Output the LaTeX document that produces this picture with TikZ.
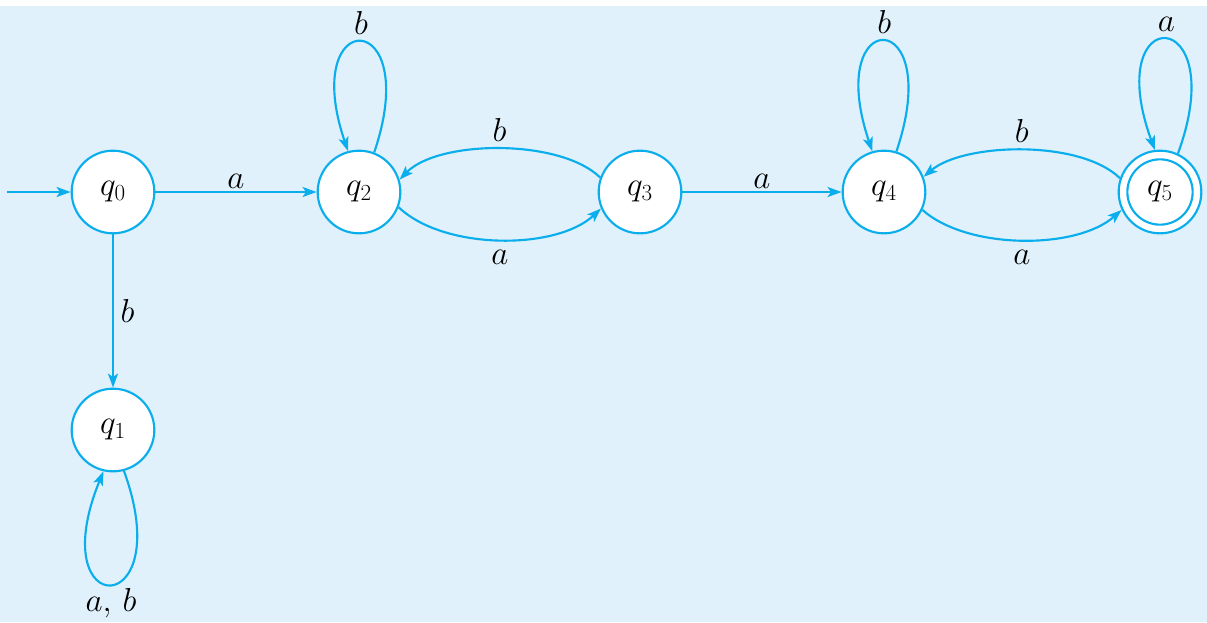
\documentclass[tikz,border=0pt]{standalone}
\usetikzlibrary{arrows.meta}
\definecolor{bg}{RGB}{224,241,251}
\definecolor{ln}{RGB}{10,174,236}
\begin{document}
\begin{tikzpicture}[x=0.75pt,y=-0.75pt,
  state/.style={circle, draw=ln, fill=white, line width=1.6pt, minimum size=62pt, inner sep=0pt, font=\fontsize{23}{27}\selectfont},
  inner/.style={circle, draw=ln, line width=1.6pt, minimum size=49pt, inner sep=0pt},
  edge/.style={draw=ln, line width=1.6pt, -{Stealth[length=10.5pt,width=7.5pt,inset=2.5pt]}},
  lab/.style={font=\fontsize{23}{27}\selectfont, inner sep=2pt}]
\useasboundingbox (0,0) rectangle (1207,622);
\fill[bg] (0,6) rectangle (1207,622);

\node[state] (q0) at (113,192) {$q_0$};
\node[state] (q1) at (113,430) {$q_1$};
\node[state] (q2) at (359,192) {$q_2$};
\node[state] (q3) at (640,192) {$q_3$};
\node[state] (q4) at (884,192) {$q_4$};
\node[state] (q5) at (1160,192) {};
\node[inner] (q5in) at (q5) {};
\node[lab] (q5t) at (q5) {$q_5$};

\coordinate (start) at (7,192);
\draw[edge] (start) -- (q0);
\draw[edge] (q0) -- node[lab, above] {$a$} (q2);
\draw[edge] (q0) -- node[lab, right=3pt] {$b$} (q1);
\draw[edge] (q1.-75) .. controls +(55,151) and +(-62,151) .. node[lab, below=0pt] {$a,\, b$} (q1.-103);

\draw[edge] (q2.69) .. controls +(50,-147) and +(-50,-146) .. node[lab, above=3pt] {$b$} (q2.105);
\draw[edge] (q2.-21) .. controls +(45,43) and +(-45,42) .. node[lab, below=5pt] {$a$} (q3.203);
\draw[edge] (q3.160) .. controls +(-40,-39) and +(39,-40) .. node[lab, above=3pt] {$b$} (q2.17);
\draw[edge] (q3) -- node[lab, above] {$a$} (q4);

\draw[edge] (q4.73) .. controls +(50,-147) and +(-50,-147) .. node[lab, above=3pt] {$b$} (q4.106);
\draw[edge] (q4.-25) .. controls +(45,40) and +(-45,40) .. node[lab, below=5pt] {$a$} (q5.205);
\draw[edge] (q5.161) .. controls +(-40,-39) and +(40,-34) .. node[lab, above=3pt] {$b$} (q4.21);
\draw[edge] (q5.65) .. controls +(55,-150) and +(-55,-150) .. node[lab, above=3pt] {$a$} (q5.97);
\end{tikzpicture}
\end{document}
